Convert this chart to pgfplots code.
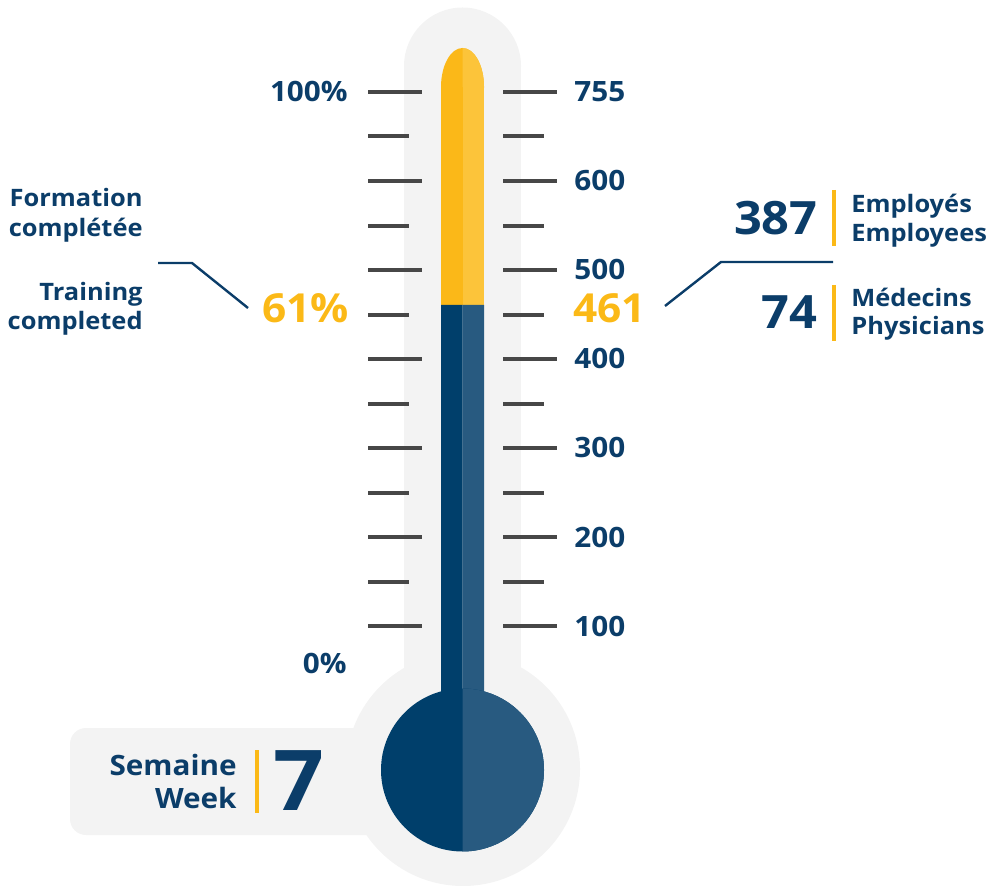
\documentclass[border=0pt]{standalone}
\usepackage{pgfplots}
\pgfplotsset{compat=1.18}
\usepackage{fontspec}
\setmainfont{Open Sans}[FakeStretch=1.06]
\definecolor{bg}{HTML}{F3F3F3}
\definecolor{tickc}{HTML}{474747}
\definecolor{tblue}{HTML}{0B3D69}
\definecolor{tubeD}{HTML}{003F6B}
\definecolor{tubeL}{HTML}{285A80}
\definecolor{yelL}{HTML}{FBB818}
\definecolor{yelR}{HTML}{FCC43A}
\definecolor{ylab}{HTML}{FBB917}
\newcommand{\fs}[1]{\fontsize{#1}{#1}\selectfont\bfseries}
\begin{document}
\begin{tikzpicture}
\begin{axis}[scale only axis, width=494.5pt, height=443pt,
  xmin=0, xmax=989, ymin=0, ymax=886, y dir=reverse,
  hide axis, clip=false]
\path (axis cs:0,0) rectangle (axis cs:989,886);
% background shape
\fill[bg] (axis cs:404,66) rectangle (axis cs:521,700);
\fill[bg] (axis cs:462.5,66) circle[radius=29.25pt];
\fill[bg] (axis cs:463,769) circle[radius=58.5pt];
\fill[bg, rounded corners=8pt] (axis cs:70,728) rectangle (axis cs:400,835);
% ticks
\pgfplotsinvokeforeach{92,181,270,359,448,537,626}{
  \draw[tickc, line width=1.8pt] (axis cs:368,#1) -- (axis cs:422,#1);
  \draw[tickc, line width=1.8pt] (axis cs:503,#1) -- (axis cs:557,#1);
}
\pgfplotsinvokeforeach{136,226,315,404,493,582}{
  \draw[tickc, line width=1.8pt] (axis cs:368,#1) -- (axis cs:409,#1);
  \draw[tickc, line width=1.8pt] (axis cs:503,#1) -- (axis cs:544,#1);
}
% tube: completed 461 of scale (0 at y=715, 100 per 89 px) -> y=305
\fill[yelL] (axis cs:462.5,87) ellipse[x radius=10.75pt, y radius=19.5pt];
\begin{scope}
\clip (axis cs:462.5,0) rectangle (axis cs:600,886);
\fill[yelR] (axis cs:462.5,87) ellipse[x radius=10.75pt, y radius=19.5pt];
\end{scope}
\addplot[fill=yelL, draw=none] coordinates {(441,87) (462.5,87) (462.5,305) (441,305)} -- cycle;
\addplot[fill=yelR, draw=none] coordinates {(462.5,87) (484,87) (484,305) (462.5,305)} -- cycle;
\addplot[fill=tubeD, draw=none] coordinates {(441,305) (462.5,305) (462.5,712) (416,712) (441,694)} -- cycle;
\addplot[fill=tubeL, draw=none] coordinates {(462.5,305) (484,305) (484,694) (509,712) (462.5,712)} -- cycle;
\fill[tubeD] (axis cs:462.5,770) circle[radius=40.75pt];
\begin{scope}
\clip (axis cs:462.5,0) rectangle (axis cs:600,886);
\fill[tubeL] (axis cs:462.5,770) circle[radius=40.75pt];
\end{scope}
% labels
\begin{scope}[every node/.style={inner sep=0pt, text=tblue}]
\node[anchor=base east] at (axis cs:348,102) {\fs{14}100\%};
\node[anchor=base east] at (axis cs:347,673) {\fs{14}0\%};
\node[anchor=base west] at (axis cs:574,102) {\fs{14}755};
\node[anchor=base west] at (axis cs:574,191) {\fs{14}600};
\node[anchor=base west] at (axis cs:574,280) {\fs{14}500};
\node[anchor=base west] at (axis cs:574,369) {\fs{14}400};
\node[anchor=base west] at (axis cs:574,458) {\fs{14}300};
\node[anchor=base west] at (axis cs:574,547) {\fs{14}200};
\node[anchor=base west] at (axis cs:574,636) {\fs{14}100};
\node[anchor=base east] at (axis cs:143,207) {\fs{12}Formation};
\node[anchor=base east] at (axis cs:143,237) {\fs{12}complétée};
\node[anchor=base east] at (axis cs:143,301) {\fs{12}Training};
\node[anchor=base east] at (axis cs:143,330) {\fs{12}completed};
\node[anchor=base east, text=ylab] at (axis cs:349,323) {\fs{20}61\%};
\node[anchor=base west, text=ylab] at (axis cs:573,323) {\fs{20}461};
\node[anchor=base east] at (axis cs:818,235) {\fs{23}387};
\node[anchor=base east] at (axis cs:818,329) {\fs{23}74};
\node[anchor=base west] at (axis cs:851,213) {\fs{12}Employés};
\node[anchor=base west] at (axis cs:851,242) {\fs{12}Employees};
\node[anchor=base west] at (axis cs:851,307) {\fs{12}Médecins};
\node[anchor=base west] at (axis cs:851,335) {\fs{12}Physicians};
\node[anchor=base east] at (axis cs:237,775) {\fs{14}Semaine};
\node[anchor=base east] at (axis cs:237,808) {\fs{14}Week};
\node[anchor=base west] at (axis cs:273,810) {\fs{42}7};
\end{scope}
% yellow separators
\draw[ylab, line width=2pt] (axis cs:834,190) -- (axis cs:834,246);
\draw[ylab, line width=2pt] (axis cs:834,285) -- (axis cs:834,341);
\draw[ylab, line width=2pt] (axis cs:257,750) -- (axis cs:257,813);
% connectors
\draw[tblue, line width=1.2pt] (axis cs:158,263) -- (axis cs:192,263) -- (axis cs:248,308);
\draw[tblue, line width=1.2pt] (axis cs:665,306) -- (axis cs:721,262) -- (axis cs:833,262);
\end{axis}
\end{tikzpicture}
\end{document}
